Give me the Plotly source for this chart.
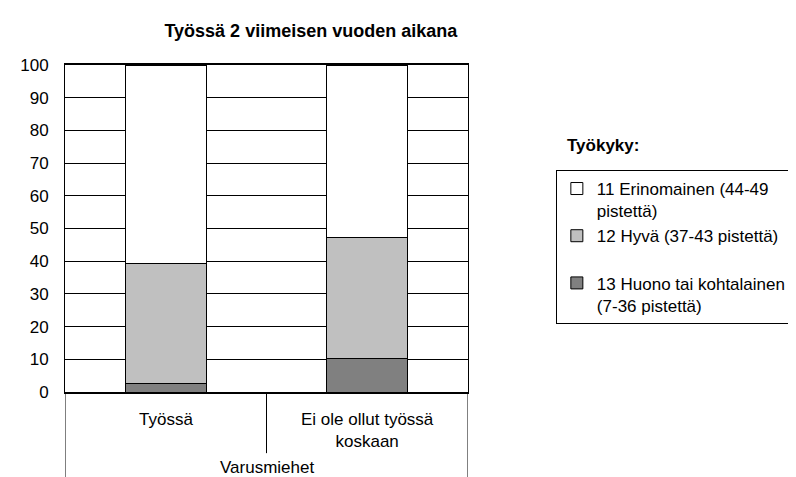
import plotly.graph_objects as go

# data
categories = ["Työssä", "Ei ole ollut työssä koskaan"]
category_labels = ["Työssä", "Ei ole ollut työssä<br>koskaan"]
group_label = "Varusmiehet"
series_names = [
    "13 Huono tai kohtalainen<br>(7-36 pistettä)",
    "12 Hyvä (37-43 pistettä)<br> ",
    "11 Erinomainen (44-49<br>pistettä)",
]
huono = [2.5, 10.1]
hyva = [36.9, 37.0]
erinomainen = [60.6, 52.9]
series_values = [huono, hyva, erinomainen]
series_colors = ["#808080", "#C0C0C0", "#FFFFFF"]
y_ticks = [0, 10, 20, 30, 40, 50, 60, 70, 80, 90, 100]

FONT = "Liberation Sans, Arial, sans-serif"

fig = go.Figure()
for name, vals, col in zip(series_names, series_values, series_colors):
    fig.add_trace(go.Bar(
        x=categories, y=vals, name=name, width=0.4,
        marker=dict(color=col, line=dict(color="black", width=1)),
        hoverinfo="x+y",
    ))

# category labels under the axis
annotations = []
for cat, lab in zip(categories, category_labels):
    annotations.append(dict(x=cat, xref="x", y=-0.05, yref="paper", yanchor="top",
                            text=lab, showarrow=False, font=dict(size=17)))
annotations.append(dict(x=0.5, xref="x", y=-0.232, yref="paper", yanchor="middle",
                        text=group_label, showarrow=False, font=dict(size=17)))
annotations.append(dict(x=1.4286, xref="paper", y=0.755, yref="paper", yanchor="middle",
                        text="<b>Työkyky:</b>", showarrow=False, font=dict(size=17)))

# divider lines of the category table
shapes = [
    dict(type="line", xref="x", yref="paper", x0=-0.5, x1=-0.5, y0=0, y1=-0.3,
         line=dict(color="black", width=1)),
    dict(type="line", xref="x", yref="paper", x0=1.5, x1=1.5, y0=0, y1=-0.3,
         line=dict(color="black", width=1)),
    dict(type="line", xref="x", yref="paper", x0=0.5, x1=0.5, y0=0, y1=-0.187,
         line=dict(color="black", width=1)),
]

fig.update_layout(
    barmode="stack",
    width=796, height=477,
    margin=dict(l=53, r=330, t=57, b=93),
    paper_bgcolor="white", plot_bgcolor="white",
    font=dict(family=FONT, size=17, color="black"),
    title=dict(text="<b>Työssä 2 viimeisen vuoden aikana</b>", x=0.61, xref="paper",
               xanchor="center", y=0.952, yanchor="middle", font=dict(size=18)),
    xaxis=dict(type="category", range=[-0.5, 1.5], showticklabels=False, showgrid=False,
               showline=True, linecolor="black", linewidth=2, mirror=True, ticks=""),
    yaxis=dict(range=[0, 100], tickvals=y_ticks, showgrid=True, gridcolor="black", gridwidth=1,
               showline=True, linecolor="black", linewidth=1, mirror=True, ticks="",
               ticklabelstandoff=12, zeroline=False, tickfont=dict(size=17)),
    legend=dict(x=1.218, xanchor="left", y=0.679, yanchor="top", traceorder="reversed",
                bgcolor="white", bordercolor="black", borderwidth=1, valign="top",
                font=dict(size=17)),
    annotations=annotations,
    shapes=shapes,
)

fig.write_html("out.html")
